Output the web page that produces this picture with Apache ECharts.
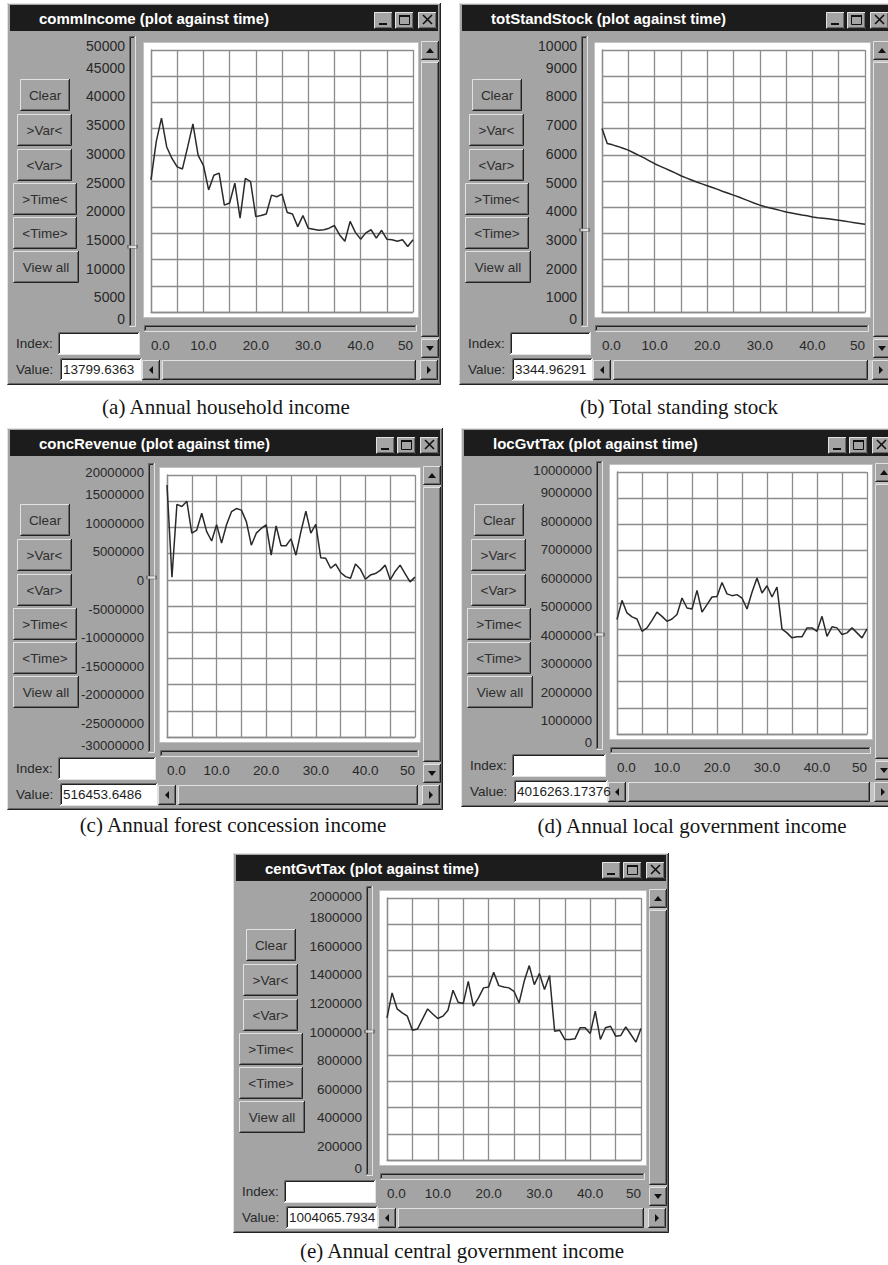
<!DOCTYPE html>
<html>
<head>
<meta charset="utf-8">
<title>plot against time</title>
<script src="https://cdn.jsdelivr.net/npm/echarts@6/dist/echarts.min.js"></script>
<style>
  html, body { margin: 0; padding: 0; background: #ffffff; }
  #main { width: 888px; height: 1265px; }
</style>
</head>
<body>
<div id="main"></div>
<script>
// time (years), shared by every plot
var years = [0, 1, 2, 3, 4, 5, 6, 7, 8, 9, 10, 11, 12, 13, 14, 15, 16, 17, 18, 19, 20,
  21, 22, 23, 24, 25, 26, 27, 28, 29, 30, 31, 32, 33, 34, 35, 36, 37, 38, 39, 40,
  41, 42, 43, 44, 45, 46, 47, 48, 49, 50];

// (a) commIncome
var commIncome = [25200, 32500, 37000, 31500, 29300, 27700, 27300, 31500, 35900, 29900, 28000,
  23300, 26100, 26500, 20400, 20800, 24600, 17900, 25500, 24900, 18200,
  18400, 18700, 22300, 22000, 22500, 19000, 18700, 16300, 18400, 16000,
  15800, 15600, 15700, 16000, 16500, 14700, 13500, 17300, 15200, 13900,
  15100, 15700, 14100, 15600, 13900, 13800, 13500, 13800, 12500, 13799.6363];

// (b) totStandStock
var totStandStock = [7000, 6430, 6380, 6320, 6250, 6180, 6080, 5980, 5880, 5770, 5660,
  5570, 5480, 5390, 5300, 5200, 5120, 5040, 4960, 4890, 4820,
  4750, 4680, 4600, 4530, 4460, 4390, 4310, 4230, 4150, 4080,
  4020, 3970, 3920, 3870, 3820, 3780, 3740, 3700, 3670, 3630,
  3600, 3580, 3560, 3530, 3500, 3470, 3440, 3410, 3380, 3344.96291];

// (c) concRevenue
var concRevenue = [18100000, 500000, 14400000, 14000000, 15000000, 8900000, 9500000, 12700000, 9200000, 7400000, 10500000,
  7000000, 10500000, 13000000, 13600000, 13300000, 11100000, 6600000, 8900000, 9800000, 10500000,
  4700000, 10300000, 6500000, 6500000, 7800000, 4700000, 9200000, 13100000, 8900000, 10600000,
  4200000, 4100000, 2200000, 3000000, 1400000, 600000, 300000, 3000000, 2000000, 100000,
  900000, 1200000, 1800000, 2800000, 0, 1600000, 2800000, 1200000, -400000, 516453.6486];

// (d) locGvtTax
var locGvtTax = [4370000, 5100000, 4620000, 4470000, 4390000, 3920000, 4050000, 4340000, 4650000, 4490000, 4300000,
  4390000, 4560000, 5190000, 4810000, 4770000, 5480000, 4650000, 4940000, 5230000, 5250000,
  5780000, 5350000, 5280000, 5320000, 5190000, 4770000, 5410000, 5950000, 5380000, 5660000,
  5230000, 5610000, 4000000, 3860000, 3670000, 3710000, 3710000, 4050000, 4050000, 3920000,
  4490000, 3730000, 4090000, 4050000, 3800000, 3860000, 4050000, 3860000, 3670000, 4016263.17376];

// (e) centGvtTax
var centGvtTax = [1085000, 1275000, 1153000, 1123000, 1098000, 990000, 1000000, 1077000, 1153000, 1115000, 1080000,
  1098000, 1143000, 1296000, 1204000, 1194000, 1364000, 1174000, 1237000, 1314000, 1321000,
  1433000, 1331000, 1321000, 1314000, 1288000, 1199000, 1364000, 1484000, 1339000, 1423000,
  1301000, 1408000, 983000, 990000, 920000, 920000, 925000, 1009000, 1009000, 965000,
  1136000, 920000, 1009000, 1021000, 945000, 950000, 1016000, 958000, 900000, 1004065.7934];

var buttonLabels = ['Clear', '>Var<', '<Var>', '>Time<', '<Time>', 'View all'];

// layout of the five windows
var panels = [
  { title: 'commIncome', caption: '(a) Annual household income', values: commIncome,
    yMin: 0, yMax: 50000, yStep: 5000,
    wx: 7, wy: 3, gridL: 151, gridT: 50, gridR: 413, labR: 125, labT: 39, labB: 326, labSize: 14, capX: 226, capY: 407 },
  { title: 'totStandStock', caption: '(b) Total standing stock', values: totStandStock,
    yMin: 0, yMax: 10000, yStep: 1000,
    wx: 459, wy: 3, gridL: 602, gridT: 50, gridR: 865, labR: 577, labT: 39, labB: 326, labSize: 14, capX: 679, capY: 407 },
  { title: 'concRevenue', caption: '(c) Annual forest concession income', values: concRevenue,
    yMin: -30000000, yMax: 20000000, yStep: 5000000,
    wx: 7, wy: 428, gridL: 167, gridT: 475, gridR: 415, labR: 144, labT: 466, labB: 752, labSize: 13.2, capX: 233, capY: 825 },
  { title: 'locGvtTax', caption: '(d) Annual local government income', values: locGvtTax,
    yMin: 0, yMax: 10000000, yStep: 1000000,
    wx: 461, wy: 428, gridL: 617, gridT: 472, gridR: 867, labR: 592, labT: 464, labB: 749, labSize: 13.2, capX: 692, capY: 826 },
  { title: 'centGvtTax', caption: '(e) Annual central government income', values: centGvtTax,
    yMin: 0, yMax: 2000000, yStep: 200000,
    wx: 233, wy: 853, gridL: 387, gridT: 898, gridR: 641, labR: 362, labT: 889, labB: 1175, labSize: 13.5, capX: 462, capY: 1251 }
];

var UI_FONT = '"Liberation Sans", Arial, sans-serif';
var SERIF = '"Liberation Serif", "Times New Roman", serif';
var BODY = '#a4a4a4', LIGHT = '#e2e2e2', DARK = '#222222', SHADE = '#686868';
var GRIDC = '#8c8c8c', INK = '#282828';

// ---- little drawing helpers for the window chrome ----
var els = [];
function add(e, z) { e.z = z; e.silent = true; els.push(e); }
function box(x, y, w, h, fill, z) {
  add({ type: 'rect', shape: { x: x, y: y, width: w, height: h }, style: { fill: fill } }, z);
}
function pl(pts, color, z, lw) {
  add({ type: 'polyline', shape: { points: pts }, style: { stroke: color, fill: null, lineWidth: lw || 1 } }, z);
}
function raised(x, y, w, h, z) {
  box(x, y, w, h, BODY, z);
  pl([[x + 0.5, y + h - 1], [x + 0.5, y + 0.5], [x + w - 1, y + 0.5]], LIGHT, z + 1);
  pl([[x + 0.5, y + h - 0.5], [x + w - 0.5, y + h - 0.5], [x + w - 0.5, y]], DARK, z + 1);
  pl([[x + 1.5, y + h - 1.5], [x + w - 1.5, y + h - 1.5], [x + w - 1.5, y + 1]], SHADE, z + 1);
}
function sunken(x, y, w, h, fill, z) {
  box(x, y, w, h, fill, z);
  pl([[x + 0.5, y + h - 1], [x + 0.5, y + 0.5], [x + w - 1, y + 0.5]], SHADE, z + 1);
  pl([[x + 1.5, y + h - 2], [x + 1.5, y + 1.5], [x + w - 2, y + 1.5]], DARK, z + 1);
  pl([[x + 0.5, y + h - 0.5], [x + w - 0.5, y + h - 0.5], [x + w - 0.5, y]], LIGHT, z + 1);
}
function txt(x, y, s, o) {
  o = o || {};
  var al = o.align || 'left';
  add({
    type: 'text', x: x, y: y,
    style: {
      text: s, fill: o.fill || INK,
      fontSize: o.size || 13.5, fontFamily: o.family || UI_FONT, fontWeight: o.weight || 'normal',
      align: al, textAlign: al, verticalAlign: 'middle', textVerticalAlign: 'middle'
    }
  }, 5);
}
function tri(pts, z) { add({ type: 'polygon', shape: { points: pts }, style: { fill: '#111111' } }, z); }

function chrome(p) {
  var gb = p.gridT + 262, wr = p.gridR + 28, wb = gb + 73;
  var bl = p.gridL - 8, br = p.gridR + 6;
  var x0 = p.wx, y0 = p.wy;

  // window frame and title bar
  raised(x0, y0, wr - x0, wb - y0, -40);
  box(x0 + 3, y0 + 2, wr - x0 - 6, 26, '#1c1c1c', -35);
  txt(x0 + 32, y0 + 15, p.title + ' (plot against time)', { fill: '#ffffff', weight: 'bold', size: 15 });
  [wr - 67, wr - 46, wr - 23].forEach(function (bx, k) {
    raised(bx, y0 + 9, 19, 17, -30);
    if (k === 0) box(bx + 5, y0 + 20, 8, 2, '#111111', -20);
    if (k === 1) {
      add({ type: 'rect', shape: { x: bx + 4.5, y: y0 + 12.5, width: 10, height: 9 },
        style: { fill: null, stroke: '#111111', lineWidth: 1 } }, -20);
      box(bx + 4, y0 + 12, 11, 2, '#111111', -20);
    }
    if (k === 2) {
      pl([[bx + 5, y0 + 12], [bx + 14, y0 + 21]], '#111111', -20, 1.6);
      pl([[bx + 14, y0 + 12], [bx + 5, y0 + 21]], '#111111', -20, 1.6);
    }
  });

  // left button column
  var bpos = [[13, 76, 50], [10, 111, 55], [10, 146, 55], [6, 180, 64], [6, 214, 64], [6, 248, 66]];
  buttonLabels.forEach(function (lab, k) {
    var b = bpos[k];
    raised(x0 + b[0], y0 + b[1], b[2], 32, -30);
    txt(x0 + b[0] + b[2] / 2, y0 + b[1] + 16, lab, { align: 'center', fill: '#2e2e2e', size: 13.5 });
  });

  // vertical slider next to the value labels
  sunken(p.labR + 4, p.labT - 3, 7, p.labB - p.labT + 4, BODY, -30);

  // white plot box
  add({ type: 'rect', shape: { x: bl + 0.5, y: p.gridT - 7.5, width: br - bl - 1, height: 262 + 13 },
    style: { fill: '#ffffff', stroke: '#c2c2c2', lineWidth: 1 } }, -30);

  // time slider under the plot
  sunken(bl + 1, gb + 13, br - bl - 3, 7, BODY, -30);

  // Index / Value fields
  txt(x0 + 9, gb + 31, 'Index:');
  sunken(x0 + 51, gb + 20, bl - 3 - (x0 + 51), 23, '#ffffff', -30);
  txt(x0 + 9, gb + 57, 'Value:');
  sunken(x0 + 53, gb + 46, bl - 1 - (x0 + 53), 23, '#ffffff', -30);
  txt(x0 + 56, gb + 57.5, String(p.values[p.values.length - 1]), { fill: '#1e1e1e' });

  // horizontal scrollbar
  var hy = gb + 48;
  box(bl - 1, hy, wr - 2 - bl, 20, '#c4c4c4', -32);
  raised(bl - 1, hy, 18, 20, -30);
  tri([[bl + 10, hy + 6], [bl + 10, hy + 14], [bl + 6, hy + 10]], -20);
  raised(bl + 19, hy, wr - 23 - (bl + 19) - 2, 20, -30);
  raised(wr - 21, hy, 18, 20, -30);
  tri([[wr - 14, hy + 6], [wr - 14, hy + 14], [wr - 10, hy + 10]], -20);

  // vertical scrollbar
  var vx = p.gridR + 8, vt = p.gridT - 9, vb = gb + 46;
  box(vx, vt, 18, vb - vt, '#c4c4c4', -32);
  raised(vx, vt, 18, 19, -30);
  tri([[vx + 5, vt + 12], [vx + 13, vt + 12], [vx + 9, vt + 7]], -20);
  raised(vx, vt + 21, 18, vb - vt - 42, -30);
  raised(vx, vb - 19, 18, 19, -30);
  tri([[vx + 5, vb - 12], [vx + 13, vb - 12], [vx + 9, vb - 7]], -20);

  // caption under the window
  txt(p.capX, p.capY, p.caption, { align: 'center', family: SERIF, size: 21, fill: '#151515' });
}

var grids = [], xAxes = [], yAxes = [], series = [];
panels.forEach(function (p, i) {
  chrome(p);
  var last = p.values[p.values.length - 1];

  // plot grid (10 x 10 cells)
  grids.push({ left: p.gridL, top: p.gridT, width: p.gridR - p.gridL, height: 262, outerBoundsMode: 'none' });
  // narrow grid that only carries the value labels and the slider marker
  grids.push({ left: p.labR + 4, top: p.labT, width: 7, height: p.labB - p.labT, outerBoundsMode: 'none' });

  xAxes.push({
    gridIndex: 2 * i, type: 'value', min: 0, max: 50, interval: 5,
    axisLine: { show: true, onZero: false, lineStyle: { color: GRIDC, width: 1.3 } },
    axisTick: { show: false },
    splitLine: { show: true, lineStyle: { color: GRIDC, width: 1.3 } },
    axisLabel: {
      margin: 26, color: INK, fontSize: 13.5, fontFamily: UI_FONT, hideOverlap: false,
      alignMinLabel: 'left', alignMaxLabel: 'right',
      formatter: function (v) { return v % 10 ? '' : (v === 50 ? '50' : v.toFixed(1)); }
    }
  });
  xAxes.push({ gridIndex: 2 * i + 1, type: 'value', min: 0, max: 1, show: false });

  yAxes.push({
    gridIndex: 2 * i, type: 'value', min: p.yMin, max: p.yMax, interval: p.yStep,
    axisLine: { show: true, onZero: false, lineStyle: { color: GRIDC, width: 1.3 } },
    axisTick: { show: false },
    axisLabel: { show: false },
    splitLine: { show: true, lineStyle: { color: GRIDC, width: 1.3 } }
  });
  yAxes.push({
    gridIndex: 2 * i + 1, type: 'value', min: p.yMin, max: p.yMax, interval: p.yStep,
    axisLine: { show: false }, axisTick: { show: false }, splitLine: { show: false },
    axisLabel: {
      margin: 4, color: INK, fontSize: p.labSize, fontFamily: UI_FONT, hideOverlap: false,
      verticalAlignMinLabel: 'bottom', verticalAlignMaxLabel: 'top',
      formatter: function (v) { return String(v); }
    }
  });

  series.push({
    type: 'line', xAxisIndex: 2 * i, yAxisIndex: 2 * i,
    data: years.map(function (t, k) { return [t, p.values[k]]; }),
    showSymbol: false, silent: true,
    lineStyle: { color: '#2a2a2a', width: 1.5 }
  });
  series.push({
    type: 'scatter', xAxisIndex: 2 * i + 1, yAxisIndex: 2 * i + 1,
    data: [[0.5, last]], symbol: 'rect', symbolSize: [9, 3], silent: true,
    itemStyle: { color: '#eeeeee', borderColor: '#444444', borderWidth: 0.8 }
  });
});

var chart = echarts.init(document.getElementById('main'), null, { renderer: 'svg' });
chart.setOption({
  animation: false,
  backgroundColor: '#ffffff',
  grid: grids,
  xAxis: xAxes,
  yAxis: yAxes,
  series: series,
  graphic: { elements: els }
});
</script>
</body>
</html>
